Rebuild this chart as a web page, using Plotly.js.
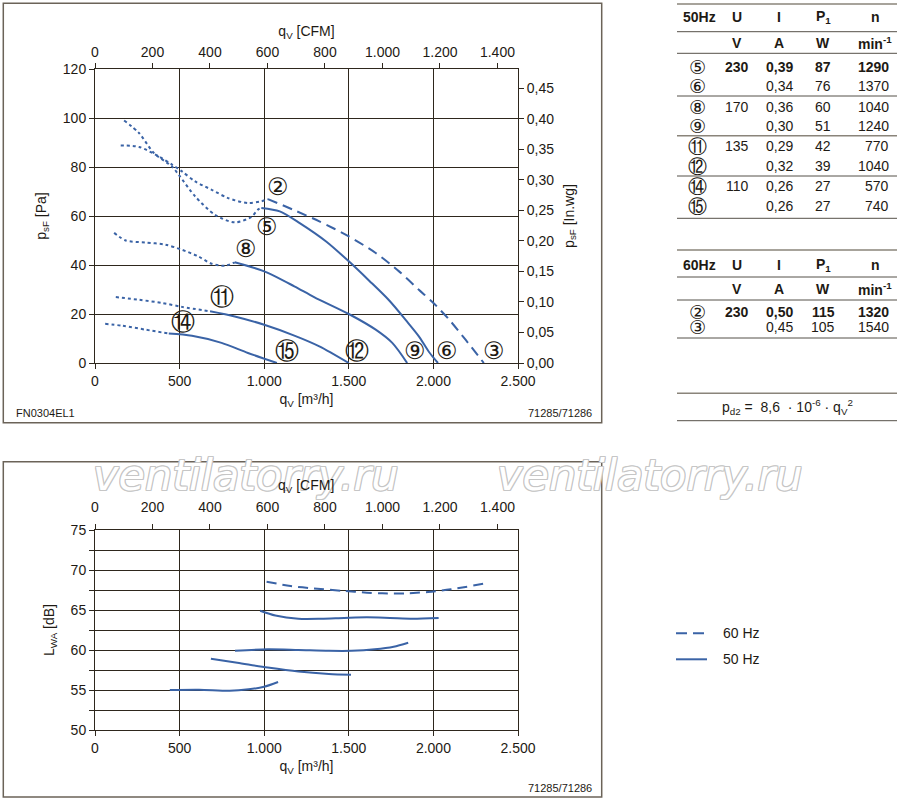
<!DOCTYPE html>
<html><head><meta charset="utf-8">
<script src="https://cdn.plot.ly/plotly-3.0.1.min.js"></script>
<style>html,body{margin:0;padding:0;background:#fff}</style>
</head><body>
<div id="chart" style="width:900px;height:802px"></div>
<script>
// ---------- data: pressure curves (q in m3/h, p in Pa) ----------
const q2dot = [152, 260, 377, 455, 514, 592, 690, 787, 904, 983, 1022];
const p2dot = [88.8, 88.2, 84.3, 81.0, 78.2, 74.1, 70.7, 67.3, 65.3, 66.0, 66.9];
const q2 = [1022, 1170, 1326, 1500, 1659, 1797, 1914, 2000, 2093, 2190, 2298];
const p2 = [66.9, 62.6, 57.8, 51.7, 44.9, 37.4, 29.9, 24.5, 17.7, 9.5, 0];

const q5dot = [172, 260, 348, 455, 494, 592, 709, 826, 924, 963, 983];
const p5dot = [99.0, 93.9, 85.7, 80.2, 76.9, 68.0, 60.5, 57.4, 59.6, 62.6, 63.3];
const q5 = [983, 1092, 1210, 1366, 1500, 1622, 1739, 1837, 1914, 1973, 2027];
const p5 = [63.3, 61.9, 57.1, 49.6, 41.5, 33.5, 25.5, 17.5, 10.9, 4.6, 0];

const q8dot = [113, 182, 299, 416, 514, 611, 690, 768, 826];
const p8dot = [53.1, 50.0, 49.2, 48.3, 46.2, 43.5, 40.5, 39.7, 41.1];
const q8 = [826, 1000, 1178, 1295, 1500, 1659, 1757, 1845];
const p8 = [41.1, 37.4, 31.3, 26.9, 20.0, 13.6, 8.2, 0];

const q11dot = [123, 260, 397, 514, 680];
const p11dot = [26.9, 25.8, 24.5, 22.9, 21.1];
const q11 = [680, 826, 1000, 1178, 1326, 1500];
const p11 = [21.1, 19.0, 15.6, 11.2, 6.8, 0];

const q14dot = [60, 162, 299, 436];
const p14dot = [16.0, 15.2, 13.6, 12.0];
const q14 = [436, 573, 748, 904, 1075];
const p14 = [12.0, 11.1, 8.2, 4.1, 0];

// ---------- data: sound power curves (q in m3/h, L in dB) ----------
const qL2 = [1014, 1156, 1292, 1472, 1607, 1697, 1833, 1968, 2103, 2302];
const L2 = [68.54, 68.0, 67.7, 67.38, 67.17, 67.08, 67.08, 67.25, 67.58, 68.3];
const qL5 = [976, 1066, 1202, 1337, 1472, 1607, 1743, 1878, 2031];
const L5 = [64.9, 64.3, 63.9, 63.9, 64.0, 64.08, 64.0, 63.9, 64.0];
const qL8 = [827, 1021, 1202, 1382, 1517, 1653, 1765, 1851];
const L8 = [59.9, 60.08, 60.0, 59.9, 59.9, 60.08, 60.4, 60.9];
const qL11 = [685, 841, 1021, 1202, 1382, 1513];
const L11 = [58.9, 58.4, 57.8, 57.3, 57.0, 56.9];
const qL14 = [442, 615, 796, 908, 999, 1082];
const L14 = [55.0, 55.04, 54.9, 55.08, 55.4, 56.0];

// ---------- curve labels ----------
const labelText = ['②', '⑤', '⑧', '⑪', '⑭', '⑮', '⑫', '⑨', '⑥', '③'];
const labelQ = [1082, 1014, 893, 748, 518, 1132, 1546, 1889, 2081, 2358];
const labelP = [71.8, 55.4, 46.5, 27.1, 16.9, 4.8, 5.0, 5.0, 5.0, 5.0];

// ---------- tick labels ----------
const qTicks = [0, 500, 1000, 1500, 2000, 2500];
const qTickText = ['0', '500', '1.000', '1.500', '2.000', '2.500'];
const cfmTicks = [0, 200, 400, 600, 800, 1000, 1200, 1400];
const cfmTickText = ['0', '200', '400', '600', '800', '1.000', '1.200', '1.400'];
const paTicks = [0, 20, 40, 60, 80, 100, 120];
const paTickText = ['0', '20', '40', '60', '80', '100', '120'];
const inwgTicks = [0, 0.05, 0.10, 0.15, 0.20, 0.25, 0.30, 0.35, 0.40, 0.45];
const inwgTickText = ['0,00', '0,05', '0,10', '0,15', '0,20', '0,25', '0,30', '0,35', '0,40', '0,45'];
const dbTicks = [50, 52.5, 55, 57.5, 60, 62.5, 65, 67.5, 70, 72.5, 75];
const dbTickText = ['50', '', '55', '', '60', '', '65', '', '70', '', '75'];

// ---------- tables ----------
const t50Label = ['⑤', '⑥', '⑧', '⑨', '⑪', '⑫', '⑭', '⑮'];
const t50U = ['230', '', '170', '', '135', '', '110', ''];
const t50I = ['0,39', '0,34', '0,36', '0,30', '0,29', '0,32', '0,26', '0,26'];
const t50P = ['87', '76', '60', '51', '42', '39', '27', '27'];
const t50n = ['1290', '1370', '1040', '1240', '770', '1040', '570', '740'];
const t60Label = ['②', '③'];
const t60U = ['230', ''];
const t60I = ['0,50', '0,45'];
const t60P = ['115', '105'];
const t60n = ['1320', '1540'];

// ---------- conversions ----------
const CFM_PER_M3H = 0.588578;
const PA_PER_INWG = 249.089;

const W = 900, H = 802;
const X = px => px / W;
const Y = py => 1 - py / H;

const blue = '#3a63a6';
const ink = '#1e1a14';
const gridc = '#2e271d';
const FONT = 'Liberation Sans, Arial, Helvetica, sans-serif';
const CIRC = 'DejaVu Sans, Liberation Sans, sans-serif';

function curve(x, y, dash, xa, ya) {
  return {x: x, y: y, type: 'scatter', mode: 'lines', xaxis: xa, yaxis: ya,
    line: {color: blue, width: 2, dash: dash, shape: 'spline', smoothing: 0.8},
    hoverinfo: 'skip', showlegend: false};
}

const DOT = '3px,3px';
const DASH = '10px,6px';
const traces = [
  curve(q2dot, p2dot, DOT, 'x', 'y'), curve(q2, p2, DASH, 'x', 'y'),
  curve(q5dot, p5dot, DOT, 'x', 'y'), curve(q5, p5, 'solid', 'x', 'y'),
  curve(q8dot, p8dot, DOT, 'x', 'y'), curve(q8, p8, 'solid', 'x', 'y'),
  curve(q11dot, p11dot, DOT, 'x', 'y'), curve(q11, p11, 'solid', 'x', 'y'),
  curve(q14dot, p14dot, DOT, 'x', 'y'), curve(q14, p14, 'solid', 'x', 'y'),
  curve(qL2, L2, DASH, 'x3', 'y3'),
  curve(qL5, L5, 'solid', 'x3', 'y3'),
  curve(qL8, L8, 'solid', 'x3', 'y3'),
  curve(qL11, L11, 'solid', 'x3', 'y3'),
  curve(qL14, L14, 'solid', 'x3', 'y3'),
  // invisible traces to activate the secondary axes
  {x: [0], y: [0], xaxis: 'x2', yaxis: 'y2', type: 'scatter', mode: 'markers',
   marker: {opacity: 0}, hoverinfo: 'skip', showlegend: false},
  {x: [0], y: [50], xaxis: 'x4', yaxis: 'y3', type: 'scatter', mode: 'markers',
   marker: {opacity: 0}, hoverinfo: 'skip', showlegend: false}
];

const topDomY = [Y(363), Y(69)];
const botDomY = [Y(730), Y(530)];
const domX = [X(95), X(518)];

const tickFont = {family: FONT, size: 14, color: ink};
const titleFont = {family: FONT, size: 14, color: ink};

function axisBase(extra) {
  return Object.assign({
    showline: true, linecolor: gridc, linewidth: 1,
    ticks: 'outside', ticklen: 5, tickcolor: gridc, tickwidth: 1,
    tickfont: tickFont, tickmode: 'array', automargin: false,
    zeroline: false, fixedrange: true
  }, extra);
}

const annotations = [];
function txt(px, py, text, o) {
  o = o || {};
  annotations.push({xref: 'paper', yref: 'paper', x: X(px), y: Y(py), text: text,
    showarrow: false, xanchor: o.xa || 'center', yanchor: 'middle',
    font: {family: o.family || FONT, size: o.size || 14, color: ink,
      weight: o.bold ? 'bold' : 'normal'}});
}

// watermarks: gray outline layer, then white fill layer on top (outlined letters)
const wmText = ['ventilatorry.ru', 'ventilatorry.ru'];
const wmC = '#c6c6c6';
const wmOutline = ['1px 0', '-1px 0', '0 1px', '0 -1px', '1px 1px', '-1px -1px', '1px -1px', '-1px 1px']
  .map(o => o + ' 0 ' + wmC).join(', ');
[0, 1].forEach(layer => {
  wmText.forEach((w, i) => {
    annotations.push({xref: 'paper', yref: 'paper', x: X(i === 0 ? 246 : 650), y: Y(475),
      text: w, showarrow: false, xanchor: 'center', yanchor: 'middle',
      font: {family: 'DejaVu Sans, sans-serif', size: 43, style: 'italic',
        color: layer === 0 ? wmC : '#ffffff',
        shadow: layer === 0 ? wmOutline : 'none'}});
  });
});
// bottom chart top-axis title, drawn over the watermark
txt(306, 486, 'q<sub>V</sub> [CFM]');

// curve labels in data coords
labelText.forEach((t, i) => {
  annotations.push({xref: 'x', yref: 'y', x: labelQ[i], y: labelP[i], text: t,
    showarrow: false, font: {family: CIRC, size: 24, color: ink}});
});

// footers
txt(14, 413, 'FN0304EL1', {xa: 'left', size: 11});
txt(594, 413, '71285/71286', {xa: 'right', size: 11});
txt(594, 788, '71285/71286', {xa: 'right', size: 11});

// table 50 Hz
const colU = 737, colI = 779, colP = 823, colN = 891, colL = 697;
txt(699, 17.3, '50Hz', {bold: true});
txt(colU, 17.3, 'U', {bold: true});
txt(colI, 17.3, 'I', {bold: true});
txt(colP, 17.3, 'P<sub>1</sub>', {bold: true});
txt(875, 17.3, 'n', {bold: true});
txt(colU, 43.3, 'V', {bold: true});
txt(colI, 43.3, 'A', {bold: true});
txt(colP, 43.3, 'W', {bold: true});
txt(875, 43.3, 'min<sup>-1</sup>', {bold: true});
const rowY50 = [66.7, 86, 106.7, 126, 145.7, 165.5, 186, 206.5];
rowY50.forEach((ry, i) => {
  const b = i === 0;
  txt(colL, ry, t50Label[i], {family: CIRC, size: 19});
  if (t50U[i]) txt(colU, ry, t50U[i], {bold: b});
  txt(colI, ry, t50I[i], {bold: b});
  txt(colP, ry, t50P[i], {bold: b});
  txt(colN, ry, t50n[i], {bold: b, xa: 'right'});
});

// table 60 Hz
txt(699, 265, '60Hz', {bold: true});
txt(colU, 265, 'U', {bold: true});
txt(colI, 265, 'I', {bold: true});
txt(colP, 265, 'P<sub>1</sub>', {bold: true});
txt(875, 265, 'n', {bold: true});
txt(colU, 288.5, 'V', {bold: true});
txt(colI, 288.5, 'A', {bold: true});
txt(colP, 288.5, 'W', {bold: true});
txt(875, 288.5, 'min<sup>-1</sup>', {bold: true});
const rowY60 = [312.5, 327];
rowY60.forEach((ry, i) => {
  const b = i === 0;
  txt(colL, ry, t60Label[i], {family: CIRC, size: 19});
  if (t60U[i]) txt(colU, ry, t60U[i], {bold: b});
  txt(colI, ry, t60I[i], {bold: b});
  txt(colP, ry, t60P[i], {bold: b});
  txt(colN, ry, t60n[i], {bold: b, xa: 'right'});
});

// formula
txt(787, 407.3, 'p<sub>d2</sub> =  8,6  · 10<sup>-6</sup> · q<sub>V</sub><sup>2</sup>', {size: 14});

// legend
txt(721, 633.3, '60 Hz', {xa: 'left'});
txt(721, 659.3, '50 Hz', {xa: 'left'});

// shapes
const shapes = [];
function hline(px0, px1, py, color, width) {
  shapes.push({type: 'line', xref: 'paper', yref: 'paper', x0: X(px0), x1: X(px1),
    y0: Y(py), y1: Y(py), line: {color: color, width: width}});
}
const frameC = '#6b6358';
shapes.push({type: 'rect', xref: 'paper', yref: 'paper', x0: X(3.3), x1: X(601.7),
  y0: Y(422.7), y1: Y(3.3), line: {color: frameC, width: 1.5}});
shapes.push({type: 'rect', xref: 'paper', yref: 'paper', x0: X(3.3), x1: X(601.7),
  y0: Y(797), y1: Y(461.7), line: {color: frameC, width: 1.5}});
const tg = '#8a847a', td = '#555049';
hline(677, 897, 4, tg, 1.5);
hline(677, 897, 31.7, td, 1);
hline(677, 897, 53.3, td, 1);
hline(677, 897, 96, td, 1);
hline(677, 897, 135.7, tg, 1.5);
hline(677, 897, 176, td, 1);
hline(677, 897, 218.3, td, 1);
hline(677, 897, 250, tg, 1.5);
hline(677, 897, 277, td, 1);
hline(677, 897, 300, td, 1);
hline(677, 897, 338, td, 1);
hline(677, 897, 393.3, tg, 1.5);
hline(677, 897, 420.7, td, 1);
// legend samples
shapes.push({type: 'line', xref: 'paper', yref: 'paper', x0: X(676), x1: X(709),
  y0: Y(633.3), y1: Y(633.3), line: {color: blue, width: 2, dash: '11px,6px'}});
shapes.push({type: 'line', xref: 'paper', yref: 'paper', x0: X(676), x1: X(707),
  y0: Y(659.3), y1: Y(659.3), line: {color: blue, width: 2}});

const layout = {
  width: W, height: H, margin: {l: 0, r: 0, t: 0, b: 0},
  paper_bgcolor: '#ffffff', plot_bgcolor: '#ffffff',
  showlegend: false, separators: ',.',
  font: {family: FONT, size: 14, color: ink},
  xaxis: axisBase({domain: domX, anchor: 'y', range: [0, 2500],
    tickvals: qTicks, ticktext: qTickText, mirror: true,
    showgrid: true, gridcolor: gridc, gridwidth: 1,
    title: {text: 'q<sub>V</sub> [m³/h]', font: titleFont, standoff: 6}}),
  xaxis2: axisBase({overlaying: 'x', side: 'top', anchor: 'y', range: [0, 2500 * CFM_PER_M3H],
    tickvals: cfmTicks, ticktext: cfmTickText, showgrid: false,
    title: {text: 'q<sub>V</sub> [CFM]', font: titleFont, standoff: 4}}),
  yaxis: axisBase({domain: topDomY, anchor: 'x', range: [0, 120],
    tickvals: paTicks, ticktext: paTickText, mirror: true,
    showgrid: true, gridcolor: gridc, gridwidth: 1,
    title: {text: 'p<sub>sF</sub> [Pa]', font: titleFont, standoff: 12}}),
  yaxis2: axisBase({overlaying: 'y', side: 'right', anchor: 'x', range: [0, 120 / PA_PER_INWG],
    tickvals: inwgTicks, ticktext: inwgTickText, showgrid: false,
    title: {text: 'p<sub>sF</sub> [In.wg]', font: titleFont, standoff: 10}}),
  xaxis3: axisBase({domain: domX, anchor: 'y3', range: [0, 2500],
    tickvals: qTicks, ticktext: qTickText, mirror: true,
    showgrid: true, gridcolor: gridc, gridwidth: 1,
    title: {text: 'q<sub>V</sub> [m³/h]', font: titleFont, standoff: 6}}),
  xaxis4: axisBase({overlaying: 'x3', side: 'top', anchor: 'y3', range: [0, 2500 * CFM_PER_M3H],
    tickvals: cfmTicks, ticktext: cfmTickText, showgrid: false, ticklabelstandoff: 6}),
  yaxis3: axisBase({domain: botDomY, anchor: 'x3', range: [50, 75],
    tickvals: dbTicks, ticktext: dbTickText, mirror: true,
    showgrid: true, gridcolor: gridc, gridwidth: 1,
    title: {text: 'L<sub>WA</sub> [dB]', font: titleFont, standoff: 12}}),
  annotations: annotations,
  shapes: shapes
};

Plotly.newPlot('chart', traces, layout, {displayModeBar: false, staticPlot: true});
</script>
</body></html>
